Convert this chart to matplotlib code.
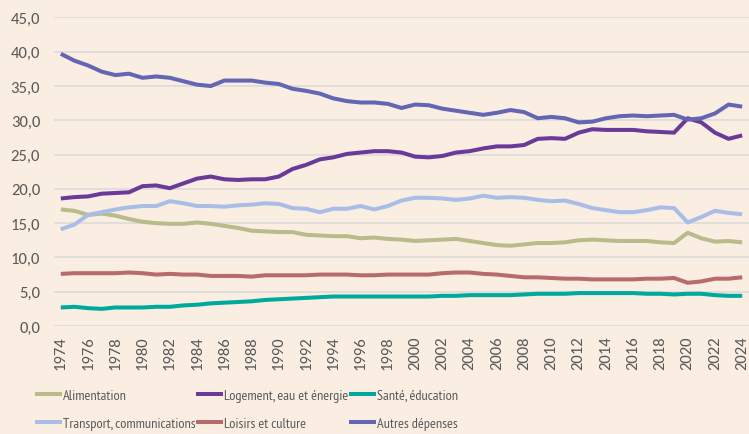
import matplotlib.pyplot as plt
from matplotlib.ticker import FuncFormatter

years = list(range(1974, 2025))

alimentation = [17.0, 16.8, 16.2, 16.4, 16.1, 15.6, 15.2, 15.0, 14.9, 14.9,
                15.1, 14.9, 14.6, 14.3, 13.9, 13.8, 13.7, 13.7, 13.3, 13.2,
                13.1, 13.1, 12.8, 12.9, 12.7, 12.6, 12.4, 12.5, 12.6, 12.7,
                12.4, 12.1, 11.8, 11.7, 11.9, 12.1, 12.1, 12.2, 12.5, 12.6,
                12.5, 12.4, 12.4, 12.4, 12.2, 12.1, 13.6, 12.8, 12.3, 12.4,
                12.2]
logement = [18.6, 18.8, 18.9, 19.3, 19.4, 19.5, 20.4, 20.5, 20.1, 20.8,
            21.5, 21.8, 21.4, 21.3, 21.4, 21.4, 21.8, 22.9, 23.5, 24.3,
            24.6, 25.1, 25.3, 25.5, 25.5, 25.3, 24.7, 24.6, 24.8, 25.3,
            25.5, 25.9, 26.2, 26.2, 26.4, 27.3, 27.4, 27.3, 28.2, 28.7,
            28.6, 28.6, 28.6, 28.4, 28.3, 28.2, 30.3, 29.7, 28.2, 27.3,
            27.8]
sante = [2.7, 2.8, 2.6, 2.5, 2.7, 2.7, 2.7, 2.8, 2.8, 3.0,
         3.1, 3.3, 3.4, 3.5, 3.6, 3.8, 3.9, 4.0, 4.1, 4.2,
         4.3, 4.3, 4.3, 4.3, 4.3, 4.3, 4.3, 4.3, 4.4, 4.4,
         4.5, 4.5, 4.5, 4.5, 4.6, 4.7, 4.7, 4.7, 4.8, 4.8,
         4.8, 4.8, 4.8, 4.7, 4.7, 4.6, 4.7, 4.7, 4.5, 4.4,
         4.4]
transport = [14.1, 14.8, 16.2, 16.6, 17.0, 17.3, 17.5, 17.5, 18.2, 17.9,
             17.5, 17.5, 17.4, 17.6, 17.7, 17.9, 17.8, 17.2, 17.1, 16.6,
             17.1, 17.1, 17.5, 17.0, 17.5, 18.3, 18.7, 18.7, 18.6, 18.4,
             18.6, 19.0, 18.7, 18.8, 18.7, 18.4, 18.2, 18.3, 17.8, 17.2,
             16.9, 16.6, 16.6, 16.9, 17.3, 17.2, 15.1, 15.9, 16.8, 16.5,
             16.3]
loisirs = [7.6, 7.7, 7.7, 7.7, 7.7, 7.8, 7.7, 7.5, 7.6, 7.5,
           7.5, 7.3, 7.3, 7.3, 7.2, 7.4, 7.4, 7.4, 7.4, 7.5,
           7.5, 7.5, 7.4, 7.4, 7.5, 7.5, 7.5, 7.5, 7.7, 7.8,
           7.8, 7.6, 7.5, 7.3, 7.1, 7.1, 7.0, 6.9, 6.9, 6.8,
           6.8, 6.8, 6.8, 6.9, 6.9, 7.0, 6.3, 6.5, 6.9, 6.9,
           7.1]
autres = [39.7, 38.7, 38.0, 37.1, 36.6, 36.8, 36.2, 36.4, 36.2, 35.7,
          35.2, 35.0, 35.8, 35.8, 35.8, 35.5, 35.3, 34.6, 34.3, 33.9,
          33.2, 32.8, 32.6, 32.6, 32.4, 31.8, 32.3, 32.2, 31.7, 31.4,
          31.1, 30.8, 31.1, 31.5, 31.2, 30.3, 30.5, 30.3, 29.7, 29.8,
          30.3, 30.6, 30.7, 30.6, 30.7, 30.8, 30.1, 30.3, 31.0, 32.3,
          32.0]

series = [
    ("Alimentation", alimentation, "#b8bb8a"),
    ("Logement, eau et énergie", logement, "#6a3a9a"),
    ("Santé, éducation", sante, "#00a99d"),
    ("Transport, communications", transport, "#aabde6"),
    ("Loisirs et culture", loisirs, "#b86b6b"),
    ("Autres dépenses", autres, "#6466b4"),
]

bg = "#f9eee1"
text_col = "#595959"
tick_font = ["Carlito", "DejaVu Sans"]
legend_font = ["PT Sans Narrow", "DejaVu Sans"]

fig = plt.figure(figsize=(7.49, 4.35), dpi=100, facecolor=bg)
ax = fig.add_axes([0.0721, 0.2483, 0.9279, 0.7092], facecolor=bg)

lines = {}
for name, vals, col in series:
    ln, = ax.plot(years, vals, color=col, lw=2.9, label=name,
                  solid_joinstyle="round", solid_capstyle="butt")
    lines[name] = ln

ax.set_xlim(1973.5, 2024.5)
ax.set_ylim(0, 45)
ax.set_yticks(range(0, 46, 5))
ax.yaxis.set_major_formatter(FuncFormatter(lambda v, p: f"{v:.1f}".replace(".", ",")))
ax.set_xticks(years[::2])
ax.set_xticklabels([str(y) for y in years[::2]], rotation=90)

ax.grid(axis="y", color="#d9d9d9", lw=1.1)
ax.set_axisbelow(True)
for s in ax.spines.values():
    s.set_visible(False)
ax.tick_params(length=0, labelsize=12, labelcolor=text_col)
ax.tick_params(axis="y", pad=10)
ax.tick_params(axis="x", pad=7)
for lab in ax.get_xticklabels() + ax.get_yticklabels():
    lab.set_fontfamily(tick_font)

# legend: 3 columns, matplotlib fills column by column
order = ["Alimentation", "Transport, communications",
         "Logement, eau et énergie", "Loisirs et culture",
         "Santé, éducation", "Autres dépenses"]
leg = fig.legend([lines[n] for n in order], order, ncol=3,
                 loc="upper left", bbox_to_anchor=(35 / 749, 1 - 390 / 435),
                 frameon=False, borderpad=0, borderaxespad=0,
                 handlelength=1.9, handletextpad=0.08,
                 columnspacing=0.0, labelspacing=1.05,
                 prop={"family": legend_font, "size": 10.3})
for t in leg.get_texts():
    t.set_color(text_col)

fig.savefig("out.png", dpi=100, facecolor=bg)
